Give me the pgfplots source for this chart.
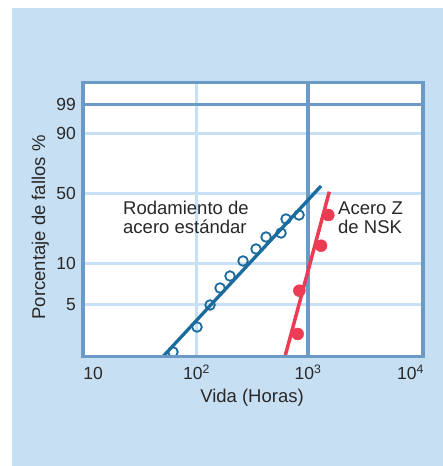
\documentclass[border=0pt]{standalone}
\usepackage{fontspec}
\setmainfont{Liberation Sans}
\usepackage{pgfplots}
\pgfplotsset{compat=1.18}
\definecolor{panel}{RGB}{199,223,243}
\definecolor{gridc}{RGB}{200,224,246}
\definecolor{framec}{RGB}{108,154,198}
\definecolor{blueline}{RGB}{26,107,158}
\definecolor{redc}{RGB}{236,59,82}
\definecolor{txt}{RGB}{40,40,40}
\begin{document}
\begin{tikzpicture}[x=1pt,y=1pt]
\useasboundingbox (0,0) rectangle (443,466);
\fill[white] (0,0) rectangle (443,466);
\fill[panel] (12,0) rectangle (443,458);
\begin{axis}[
  name=ax,
  at={(83pt,109.5pt)}, anchor=south west,
  scale only axis, width=340pt, height=273.8pt,
  xmode=log, xmin=9.594, xmax=10740, ymin=0, ymax=273.8,
  axis background/.style={fill=white},
  axis line style={draw=none},
  xtick={10,100,1000,10000},
  xticklabels={\hspace*{16pt}10,10\textsuperscript{2},10\textsuperscript{3},10\textsuperscript{4}\hspace*{18pt}},
  ytick={52.2,93.2,163.2,223.2,251.8},
  yticklabels={5,10,50,90,99},
  major tick length=0pt, minor tick length=0pt,
  minor x tick num=0,
  xticklabel style={anchor=base, yshift=-23.5pt, inner sep=0pt, font=\fontsize{17.5}{20}\selectfont, text=txt},
  yticklabel style={anchor=east, xshift=-7pt, inner sep=0pt, font=\fontsize{17.5}{20}\selectfont, text=txt},
]
% grid lines
\draw[gridc, line width=3pt] (axis cs:100,0) -- (axis cs:100,273.8);
\draw[gridc, line width=3pt] (axis cs:9,52.2) -- (axis cs:12000,52.2);
\draw[gridc, line width=3pt] (axis cs:9,93.2) -- (axis cs:12000,93.2);
\draw[gridc, line width=3pt] (axis cs:9,163.2) -- (axis cs:12000,163.2);
\draw[gridc, line width=3pt] (axis cs:9,223.2) -- (axis cs:12000,223.2);
\draw[framec, line width=3.5pt] (axis cs:9,251.8) -- (axis cs:12000,251.8);
\draw[framec, line width=3.5pt] (axis cs:1000,0) -- (axis cs:1000,273.8);
% standard steel
\addplot[only marks, mark=o, mark size=4.8pt, blueline, line width=1.8pt] coordinates {
 (61.5,4.5) (101,29.5) (132.2,51.5) (162.5,68.5) (199.7,80.5) (261.2,95.5)
 (341.7,107.5) (420.2,119.5) (572.6,123.5) (634.8,137.5) (830.6,141.5)};
\addplot[blueline, line width=3.3pt] coordinates {(50.1,0) (1308,170.5)};
% NSK Z steel
\addplot[only marks, mark=*, mark size=6pt, redc, mark options={draw=redc, fill=redc}] coordinates {
 (1520,141.5) (1308,110.8) (835.6,65.8) (808.2,22.5)};
\addplot[redc, line width=3.5pt] coordinates {(621.8,0) (1552,164.8)};
\end{axis}
\draw[framec, line width=3.5pt] (ax.south west) rectangle (ax.north east);
\begin{scope}[every node/.style={font=\fontsize{18.5}{22}\selectfont, text=txt, inner sep=0pt}]
\node[anchor=base west] at (123,251) {Rodamiento de};
\node[anchor=base west] at (123,232) {acero estándar};
\node[anchor=base west] at (338,251) {Acero Z};
\node[anchor=base west] at (338,232) {de NSK};
\node[anchor=base] at (252,63) {Vida (Horas)};
\node[rotate=90, anchor=base] at (45,238.5) {Porcentaje de fallos \%};
\end{scope}
\end{tikzpicture}
\end{document}
